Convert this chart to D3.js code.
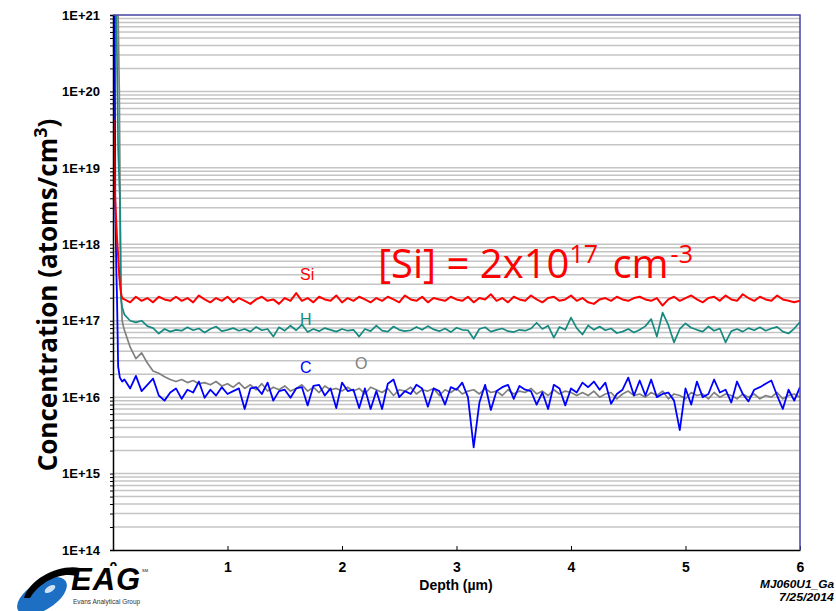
<!DOCTYPE html>
<html>
<head>
<meta charset="utf-8">
<script src="https://cdn.jsdelivr.net/npm/d3@7"></script>
<style>
  body { margin: 0; background: #fff; }
  svg { display: block; font-family: "Liberation Sans", Arial, sans-serif; }
</style>
</head>
<body>
<div id="chart"></div>
<script>
// concentrations below are in units of 1e16 atoms/cm3
const UNIT = 1e16;

const depthTicks = [0, 1, 2, 3, 4, 5, 6];
const decadeExponents = [14, 15, 16, 17, 18, 19, 20, 21];

// near-surface transients [depth um, conc]
const siSurface = [[0, 5000], [0.003, 2200], [0.006, 4200], [0.009, 2000], [0.012, 1500], [0.017, 450],
  [0.025, 250], [0.035, 120], [0.045, 70], [0.055, 38], [0.065, 26], [0.075, 21], [0.085, 19.5]];
const hSurface = [[0, 200000], [0.03, 100000], [0.04, 7000], [0.045, 1700], [0.06, 400], [0.07, 19], [0.08, 15]];
const cSurface = [[0, 300000], [0.015, 100000], [0.02, 300], [0.03, 40], [0.035, 20], [0.045, 2.5], [0.06, 1.8], [0.08, 1.6]];
const oSurface = [[0, 500000], [0.045, 100000], [0.055, 10000], [0.062, 500], [0.068, 30], [0.08, 10], [0.09, 8.5]];

// bulk profile, sampled every 0.05 um
const depthGrid = [
  0.10, 0.15, 0.20, 0.25, 0.30, 0.35, 0.40, 0.45, 0.50, 0.55,
  0.60, 0.65, 0.70, 0.75, 0.80, 0.85, 0.90, 0.95, 1.00, 1.05,
  1.10, 1.15, 1.20, 1.25, 1.30, 1.35, 1.40, 1.45, 1.50, 1.55,
  1.60, 1.65, 1.70, 1.75, 1.80, 1.85, 1.90, 1.95, 2.00, 2.05,
  2.10, 2.15, 2.20, 2.25, 2.30, 2.35, 2.40, 2.45, 2.50, 2.55,
  2.60, 2.65, 2.70, 2.75, 2.80, 2.85, 2.90, 2.95, 3.00, 3.05,
  3.10, 3.15, 3.20, 3.25, 3.30, 3.35, 3.40, 3.45, 3.50, 3.55,
  3.60, 3.65, 3.70, 3.75, 3.80, 3.85, 3.90, 3.95, 4.00, 4.05,
  4.10, 4.15, 4.20, 4.25, 4.30, 4.35, 4.40, 4.45, 4.50, 4.55,
  4.60, 4.65, 4.70, 4.75, 4.80, 4.85, 4.90, 4.95, 5.00, 5.05,
  5.10, 5.15, 5.20, 5.25, 5.30, 5.35, 5.40, 5.45, 5.50, 5.55,
  5.60, 5.65, 5.70, 5.75, 5.80, 5.85, 5.90, 5.95, 6.00
];

const siValues = [
  19, 17.4, 20.6, 18.2, 19.8, 17.4, 20.6, 19, 18.2, 20.6,
  18.2, 19.8, 17.4, 21.4, 19, 17.4, 19.8, 18.2, 20.6, 17.4,
  19.8, 18.2, 16.6, 19, 20.6, 18.2, 19, 16.6, 19.8, 18.2,
  23, 18.2, 19.8, 17.4, 20.6, 19, 18.2, 21.4, 17.4, 19.8,
  18.2, 20.6, 19, 17.4, 19.8, 18.2, 20.6, 19, 17.4, 21.4,
  19, 18.2, 20.6, 17.4, 19.8, 19, 18.2, 20.6, 19, 18.2,
  20.6, 17.4, 19.8, 19, 22.2, 18.2, 19.8, 17.4, 20.6, 19,
  18.2, 21.4, 19, 17.4, 19.8, 20.6, 18.2, 19, 21.4, 18.2,
  19.8, 17.4, 16.6, 19, 19.8, 18.2, 20.6, 19, 18.2, 19.8,
  20.6, 19, 18.2, 19.8, 15.8, 19, 20.6, 18.2, 19.8, 21.4,
  19, 17.4, 19.8, 20.6, 18.2, 21.4, 19, 18.2, 22.2, 19.8,
  18.2, 20.6, 19, 18.2, 21.4, 19, 18.2, 17.4, 18.2
];

const hValues = [
  12, 10, 9.5, 10, 8.5, 8, 6.8, 7.8, 7.2, 7.6,
  7.4, 8.2, 7.5, 7.9, 7.0, 7.8, 8.4, 7.3, 7.6, 8.0,
  7.4, 7.8, 7.2, 8.3, 7.5, 7.8, 6.2, 8.2, 7.4, 8.6,
  7.5, 8.9, 7.1, 7.8, 7.3, 8.0, 7.6, 7.2, 7.8, 7.4,
  7.6, 6.2, 7.8, 7.3, 8.6, 7.4, 7.2, 8.4, 7.6, 7.3,
  7.5, 8.3, 7.6, 8.5, 7.7, 7.3, 7.9, 7.1, 8.1, 7.6,
  7.5, 5.8, 7.8, 8.2, 7.2, 7.6, 7.9, 7.3, 7.1, 7.6,
  7.4, 7.9, 9.4, 7.8, 8.6, 6.0, 8.3, 7.6, 11.0, 8.0,
  6.6, 8.7, 7.6, 8.4, 7.5, 7.9, 6.9, 7.2, 7.8, 7.0,
  7.6, 8.5, 10.5, 6.2, 12.8, 8.8, 5.2, 7.8, 9.2, 8.1,
  7.6, 7.2, 8.4, 7.4, 7.9, 5.2, 7.3, 7.8, 7.2, 8.0,
  7.5, 8.2, 7.4, 7.9, 8.3, 7.2, 6.8, 7.9, 9.6
];

const cValues = [
  1.7, 1.3, 1.9, 1.2, 1.45, 1.75, 1.05, 0.9, 1.15, 1.3,
  0.95, 1.25, 1.15, 1.6, 0.98, 1.25, 1.05, 1.35, 1.1, 1.2,
  1.3, 0.7, 1.3, 1.35, 1.1, 1.55, 0.9, 1.2, 1.25, 0.98,
  1.3, 1.35, 0.78, 1.4, 1.45, 1.05, 1.3, 0.72, 1.55, 1.2,
  1.25, 0.72, 1.3, 0.7, 1.2, 0.7, 1.5, 1.7, 1.0, 1.2,
  1.1, 1.45, 1.3, 0.75, 1.3, 1.2, 0.8, 1.35, 1.25, 1.55,
  1.0, 0.22, 0.85, 1.45, 0.68, 1.2, 1.35, 1.45, 0.95, 1.4,
  1.25, 1.2, 0.8, 1.15, 0.7, 1.45, 1.3, 0.78, 1.3, 1.15,
  1.55, 1.35, 1.6, 1.25, 1.55, 0.82, 1.1, 1.25, 1.8, 1.05,
  1.65, 1.05, 1.7, 1.0, 1.1, 1.15, 0.9, 0.37, 1.3, 0.8,
  1.6, 1.0, 1.1, 1.7, 1.15, 1.25, 0.85, 1.6, 1.1, 0.88,
  1.25, 1.35, 1.5, 1.65, 1.05, 0.7, 1.25, 0.9, 1.35
];

const oValues = [
  7.5, 4.5, 3.2, 3.8, 2.8, 2.2, 2.05, 1.85, 1.7, 1.6,
  1.7, 1.55, 1.65, 1.5, 1.55, 1.45, 1.6, 1.4, 1.5, 1.35,
  1.55, 1.3, 1.45, 1.25, 1.5, 1.2, 1.35, 1.25, 1.4, 1.2,
  1.3, 1.45, 1.2, 1.35, 1.15, 1.4, 1.25, 1.3, 1.2, 1.35,
  1.2, 1.3, 1.1, 1.35, 1.25, 1.15, 1.3, 1.05, 1.25, 1.2,
  1.35, 1.1, 1.25, 1.2, 1.3, 1.05, 1.25, 1.15, 1.3, 1.1,
  1.2, 1.25, 1.1, 1.3, 1.15, 1.2, 1.05, 1.25, 1.1, 1.2,
  1.15, 1.3, 1.1, 1.2, 1.05, 1.25, 1.1, 1.2, 1.15, 1.05,
  1.15, 1.05, 1.2, 1.0, 1.1, 1.15, 0.95, 1.1, 1.2, 1.05,
  1.1, 1.0, 1.15, 1.05, 1.2, 0.95, 1.1, 1.05, 0.95, 1.15,
  1.05, 1.1, 0.95, 1.15, 1.0, 1.1, 1.05, 0.95, 1.1, 1.0,
  1.1, 0.95, 1.05, 1.0, 1.15, 0.95, 1.05, 1.1, 1.0
];

const width = 836;
const height = 611;
const plot = { left: 113, right: 800, top: 15, bottom: 550 };

const svg = d3.select("#chart").append("svg")
  .attr("width", width)
  .attr("height", height);

const x = d3.scaleLinear().domain([0, 6]).range([plot.left, plot.right]);
const y = d3.scaleLog().domain([1e14, 1e21]).range([plot.bottom, plot.top]);

// minor grid at 1..9 x 10^n
const gridValues = [];
decadeExponents.slice(0, -1).forEach(e => {
  for (let m = 1; m < 10; m++) gridValues.push(m * Math.pow(10, e));
});
gridValues.push(1e21);
const isDecade = v => Math.abs(Math.log10(v) - Math.round(Math.log10(v))) < 1e-9;

svg.append("g")
  .selectAll("line")
  .data(gridValues.filter(v => v > 1e14 && v < 1e21))
  .join("line")
  .attr("x1", plot.left)
  .attr("x2", plot.right)
  .attr("y1", d => y(d))
  .attr("y2", d => y(d))
  .attr("stroke", "#c4c4c4")
  .attr("stroke-width", 1.5);

// series
svg.append("clipPath").attr("id", "plot-clip")
  .append("rect")
  .attr("x", plot.left)
  .attr("y", plot.top)
  .attr("width", plot.right - plot.left)
  .attr("height", plot.bottom - plot.top);

const toPoints = (surface, values) =>
  surface.map(([d, v]) => ({ depth: d, conc: v * UNIT }))
    .concat(depthGrid.map((d, i) => ({ depth: d, conc: values[i] * UNIT })));

const series = [
  { name: "O", color: "#808080", width: 1.7, points: toPoints(oSurface, oValues) },
  { name: "H", color: "#168a80", width: 1.7, points: toPoints(hSurface, hValues) },
  { name: "C", color: "#0000ff", width: 1.8, points: toPoints(cSurface, cValues) },
  { name: "Si", color: "#ff0000", width: 2, points: toPoints(siSurface, siValues) }
];

const line = d3.line()
  .x(d => x(d.depth))
  .y(d => y(d.conc));

svg.append("g")
  .attr("clip-path", "url(#plot-clip)")
  .selectAll("path")
  .data(series)
  .join("path")
  .attr("fill", "none")
  .attr("stroke", d => d.color)
  .attr("stroke-width", d => d.width)
  .attr("stroke-linejoin", "round")
  .attr("d", d => line(d.points));

// axes
const yAxis = d3.axisLeft(y)
  .tickValues(gridValues)
  .tickSize(3)
  .tickPadding(10)
  .tickFormat(v => isDecade(v) ? "1E+" + Math.round(Math.log10(v)) : "");

svg.append("g")
  .attr("transform", `translate(${plot.left},0)`)
  .call(yAxis)
  .call(g => g.select(".domain").attr("stroke", "#000").attr("stroke-width", 1.5))
  .call(g => g.selectAll("text")
    .attr("font-family", "Liberation Sans, Arial, sans-serif")
    .attr("font-size", 13)
    .attr("font-weight", "bold")
    .attr("fill", "#000"));

const xAxis = d3.axisBottom(x)
  .tickValues(depthTicks)
  .tickSizeInner(-4)
  .tickSizeOuter(0)
  .tickPadding(12)
  .tickFormat(d3.format("d"));

svg.append("g")
  .attr("transform", `translate(0,${plot.bottom})`)
  .call(xAxis)
  .call(g => g.select(".domain").attr("stroke", "#000").attr("stroke-width", 1.5))
  .call(g => g.selectAll("text")
    .attr("font-family", "Liberation Sans, Arial, sans-serif")
    .attr("font-size", 14)
    .attr("font-weight", "bold")
    .attr("fill", "#000"));

// top and right frame
svg.append("path")
  .attr("d", `M${plot.left},${plot.top}H${plot.right}V${plot.bottom}`)
  .attr("fill", "none")
  .attr("stroke", "#4646a6")
  .attr("stroke-width", 1.5);

// axis titles
const yTitle = svg.append("text")
  .attr("transform", "rotate(-90)")
  .attr("x", -295)
  .attr("y", 57)
  .attr("text-anchor", "middle")
  .attr("font-family", "Open Sans, sans-serif")
  .attr("font-weight", "bold")
  .attr("font-size", 26)
  .attr("fill", "#000");
yTitle.append("tspan").text("Concentration (atoms/cm");
yTitle.append("tspan").attr("font-size", 18).attr("dy", -10).text("3");
yTitle.append("tspan").attr("dy", 10).text(")");

svg.append("text")
  .attr("x", 456)
  .attr("y", 590)
  .attr("text-anchor", "middle")
  .attr("font-size", 14)
  .attr("font-weight", "bold")
  .text("Depth (\u00b5m)");

// element labels
const labels = [
  { text: "Si", color: "#ff0000", x: 300, y: 280 },
  { text: "H", color: "#168a80", x: 300, y: 325 },
  { text: "C", color: "#0000ff", x: 300, y: 373 },
  { text: "O", color: "#808080", x: 355, y: 369 }
];
svg.append("g")
  .selectAll("text")
  .data(labels)
  .join("text")
  .attr("x", d => d.x)
  .attr("y", d => d.y)
  .attr("font-size", 16)
  .attr("fill", d => d.color)
  .text(d => d.text);

// concentration callout
const callout = svg.append("text")
  .attr("x", 378)
  .attr("y", 278)
  .attr("font-family", "Open Sans, sans-serif")
  .attr("font-size", 40)
  .attr("fill", "#ff0000")
  .style("white-space", "pre");
callout.append("tspan").text("[Si] = 2x10");
callout.append("tspan").attr("font-size", 25).attr("dy", -15).text("17");
callout.append("tspan").attr("dx", 4).attr("dy", 15).text(" cm");
callout.append("tspan").attr("font-size", 25).attr("dx", 2).attr("dy", -15).text("-3");

// sample id / date
svg.append("text")
  .attr("x", 834).attr("y", 588)
  .attr("text-anchor", "end")
  .attr("font-size", 11).attr("font-style", "italic").attr("font-weight", "bold")
  .attr("textLength", 74).attr("lengthAdjust", "spacingAndGlyphs")
  .text("MJ060U1_Ga");
svg.append("text")
  .attr("x", 834).attr("y", 601)
  .attr("text-anchor", "end")
  .attr("font-size", 11).attr("font-style", "italic").attr("font-weight", "bold")
  .attr("textLength", 55).attr("lengthAdjust", "spacingAndGlyphs")
  .text("7/25/2014");

// EAG logo
const logo = svg.append("g");
logo.append("rect").attr("x", 0).attr("y", 566).attr("width", 152).attr("height", 45).attr("fill", "#fff");
logo.append("ellipse")
  .attr("cx", 42).attr("cy", 596).attr("rx", 28).attr("ry", 14)
  .attr("transform", "rotate(-32 42 596)")
  .attr("fill", "#1d6fc4");
logo.append("ellipse")
  .attr("cx", 50).attr("cy", 589).attr("rx", 6).attr("ry", 3)
  .attr("transform", "rotate(-32 50 589)")
  .attr("fill", "#cfe2f6");
logo.append("path")
  .attr("d", "M24,598 C30,578 60,564 80,568 L76,576 C60,572 40,582 30,598 Z")
  .attr("fill", "#000");
logo.append("text")
  .attr("x", 71).attr("y", 590)
  .attr("font-size", 31).attr("font-weight", "bold").attr("font-style", "italic")
  .attr("letter-spacing", 1)
  .text("EAG");
logo.append("text")
  .attr("x", 142).attr("y", 572)
  .attr("font-size", 4)
  .text("SM");
logo.append("text")
  .attr("x", 73).attr("y", 604)
  .attr("font-size", 6.5)
  .attr("fill", "#333")
  .text("Evans Analytical Group");
</script>
</body>
</html>
